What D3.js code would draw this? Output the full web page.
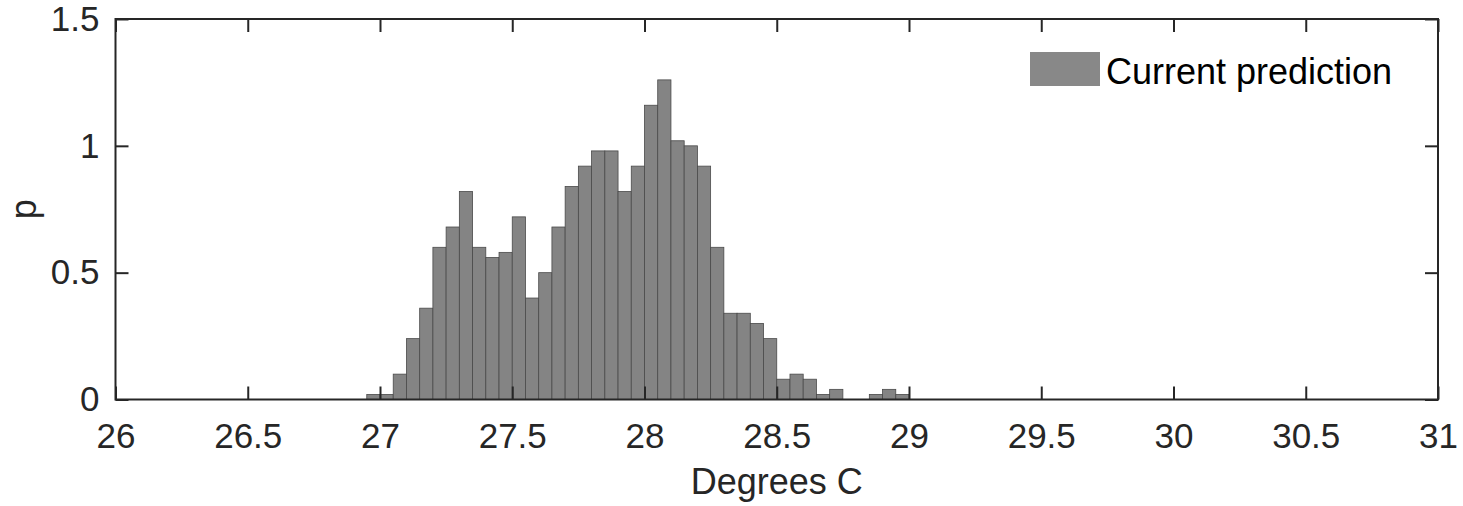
<!DOCTYPE html>
<html>
<head>
<meta charset="utf-8">
<script src="https://cdn.jsdelivr.net/npm/d3@7"></script>
<style>
  body { margin: 0; background: #fff; }
  text { font-family: "Liberation Sans", Arial, Helvetica, sans-serif; }
</style>
</head>
<body>
<svg id="chart" width="1463" height="506"></svg>
<script>
// histogram bins (left edge, width 0.05) and density values
const binLeft = [26.95, 27.00, 27.05, 27.10, 27.15, 27.20, 27.25, 27.30, 27.35, 27.40,
  27.45, 27.50, 27.55, 27.60, 27.65, 27.70, 27.75, 27.80, 27.85, 27.90,
  27.95, 28.00, 28.05, 28.10, 28.15, 28.20, 28.25, 28.30, 28.35, 28.40,
  28.45, 28.50, 28.55, 28.60, 28.65, 28.70, 28.75, 28.80, 28.85, 28.90, 28.95];
const density = [0.02, 0.02, 0.10, 0.24, 0.36, 0.60, 0.68, 0.82, 0.60, 0.56,
  0.58, 0.72, 0.40, 0.50, 0.68, 0.84, 0.92, 0.98, 0.98, 0.82,
  0.92, 1.16, 1.26, 1.02, 1.00, 0.92, 0.60, 0.34, 0.34, 0.30,
  0.24, 0.08, 0.10, 0.08, 0.02, 0.04, 0, 0, 0.02, 0.04, 0.02];
const binWidth = 0.05;
const xTicks = [26, 26.5, 27, 27.5, 28, 28.5, 29, 29.5, 30, 30.5, 31];
const yTicks = [0, 0.5, 1, 1.5];
const legendLabel = 'Current prediction';

const plot = { left: 115.5, right: 1438, top: 19, bottom: 399.5 };
const axisColor = '#262626';
const barFill = '#848484';

const svg = d3.select('#chart');

const x = d3.scaleLinear().domain([26, 31]).range([plot.left, plot.right]);
const y = d3.scaleLinear().domain([0, 1.5]).range([plot.bottom, plot.top]);

const bins = binLeft.map((b, i) => ({ x0: b, x1: b + binWidth, p: density[i] }));

svg.append('g')
  .attr('class', 'bars')
  .selectAll('rect')
  .data(bins.filter(d => d.p > 0))
  .join('rect')
  .attr('x', d => x(d.x0))
  .attr('y', d => y(d.p))
  .attr('width', d => x(d.x1) - x(d.x0))
  .attr('height', d => y(0) - y(d.p))
  .attr('fill', barFill)
  .attr('stroke', '#4a4a4a')
  .attr('stroke-width', 0.8);

const tickLen = 13;
const fontSize = 35;

// bottom axis
const xAxis = svg.append('g')
  .attr('transform', `translate(0,${plot.bottom})`)
  .call(d3.axisBottom(x).tickValues(xTicks).tickSize(-tickLen).tickPadding(24).tickFormat(d3.format('')));
// top ticks
const xAxisTop = svg.append('g')
  .attr('transform', `translate(0,${plot.top})`)
  .call(d3.axisTop(x).tickValues(xTicks).tickSize(-tickLen).tickFormat(''));
// left axis
const yAxis = svg.append('g')
  .attr('transform', `translate(${plot.left},0)`)
  .call(d3.axisLeft(y).tickValues(yTicks).tickSize(-tickLen).tickPadding(16).tickFormat(d3.format('')));
// right ticks
const yAxisRight = svg.append('g')
  .attr('transform', `translate(${plot.right},0)`)
  .call(d3.axisRight(y).tickValues(yTicks).tickSize(-tickLen).tickFormat(''));

[xAxis, xAxisTop, yAxis, yAxisRight].forEach(g => {
  g.select('.domain').remove();
  g.selectAll('.tick line').attr('stroke', axisColor).attr('stroke-width', 2);
  g.selectAll('.tick text')
    .attr('fill', axisColor)
    .style('font-size', fontSize + 'px');
});

// box
svg.append('rect')
  .attr('x', plot.left)
  .attr('y', plot.top)
  .attr('width', plot.right - plot.left)
  .attr('height', plot.bottom - plot.top)
  .attr('fill', 'none')
  .attr('stroke', axisColor)
  .attr('stroke-width', 2);

// axis labels
svg.append('text')
  .attr('x', (plot.left + plot.right) / 2)
  .attr('y', 494)
  .attr('text-anchor', 'middle')
  .attr('fill', axisColor)
  .style('font-size', '36px')
  .text('Degrees C');

svg.append('text')
  .attr('transform', `translate(36,${(plot.top + plot.bottom) / 2}) rotate(-90)`)
  .attr('text-anchor', 'middle')
  .attr('fill', axisColor)
  .style('font-size', '36px')
  .text('p');

// legend
const legend = svg.append('g').attr('class', 'legend');
legend.append('rect')
  .attr('x', 1030)
  .attr('y', 52)
  .attr('width', 70)
  .attr('height', 34)
  .attr('fill', '#888888');
legend.append('text')
  .attr('x', 1106)
  .attr('y', 84)
  .attr('fill', '#000')
  .style('font-size', '36px')
  .text(legendLabel);
</script>
</body>
</html>
